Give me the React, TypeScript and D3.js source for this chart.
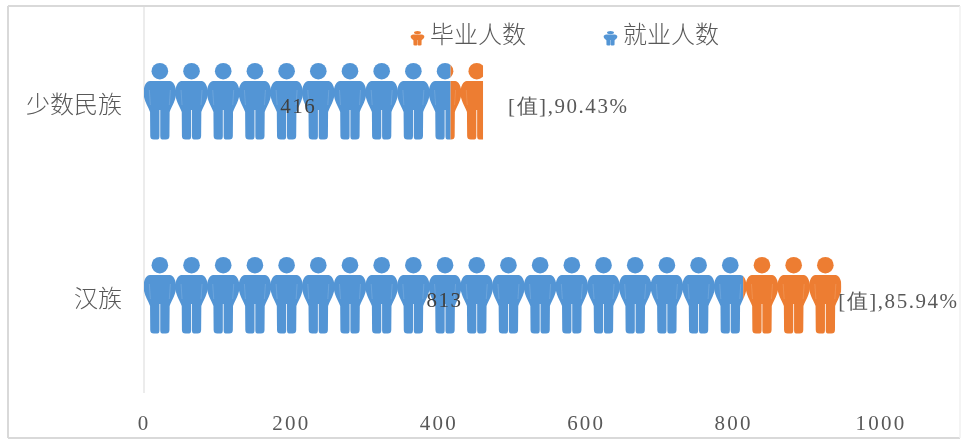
import React from "react";
import * as d3 from "d3";

const categories = ["少数民族", "汉族"];
const graduates = [460, 946];
const employed = [416, 813];
const rateLabels = ["[值],90.43%", "[值],85.94%"];
const ticks = [0, 200, 400, 600, 800, 1000];
const legendNames = ["毕业人数", "就业人数"];
const UNIT = 43; // value represented by one person glyph
const BLUE = "#5395d5";
const ORANGE = "#ed7d31";
const SERIF = "'Liberation Serif', serif";
const CJK = "'Noto Sans CJK SC', sans-serif";

const W = 964, H = 439;
const x = d3.scaleLinear().domain([0, 1000]).range([144, 881]);
const y = d3.scaleBand<string>().domain(categories).range([6, 394]).paddingInner(0).paddingOuter(0);
const glyphH = 77;

const bodyPath =
  "M-10,18 C-13.5,18 -16.3,23 -16.3,30 C-16.3,37 -12,43 -9.8,49 L-9.6,73 Q-9.6,76.5 -6,76.5 L-2.5,76.5 Q-0.4,76.5 -0.4,73 L-0.4,47 L0.4,47 L0.4,73 Q0.4,76.5 2.5,76.5 L6,76.5 Q9.6,76.5 9.6,73 L9.8,49 C12,43 16.3,37 16.3,30 C16.3,23 13.5,18 10,18 Z";

function Person({ cx, top, fill, sx = 1, sy = 1 }: { cx: number; top: number; fill: string; sx?: number; sy?: number }) {
  return (
    <g transform={`translate(${cx},${top}) scale(${sx},${sy})`}>
      <circle cx={0} cy={8.2} r={8.3} fill={fill} />
      <path d={bodyPath} fill={fill} />
      <path d="M-10.5,27 L-9.5,42 M10.5,27 L9.5,42" stroke="#fff" strokeOpacity={0.2} strokeWidth={0.7} fill="none" />
    </g>
  );
}

function Row({ i, cat, from, to, fill }: { i: number; cat: string; from: number; to: number; fill: string }) {
  const top = y(cat)! + y.bandwidth() / 2 - glyphH / 2 - 1.5;
  const id = `clip-${i}-${from}`;
  const count = Math.ceil(to / UNIT);
  return (
    <g>
      <clipPath id={id}>
        <rect x={x(from)} y={top - 2} width={x(to) - x(from)} height={glyphH + 4} />
      </clipPath>
      <g clipPath={`url(#${id})`}>
        {d3.range(count).map((k) => (
          <Person key={k} cx={x(k * UNIT + UNIT / 2)} top={top} fill={fill} />
        ))}
      </g>
    </g>
  );
}

export default function App() {
  return (
    <svg
      width={W}
      height={H}
      viewBox={`0 0 ${W} ${H}`}
      style={{ position: "absolute", left: 0, top: 0, background: "#fff" }}
    >
      <defs>
        <filter id="soft" x="-5%" y="-5%" width="110%" height="110%">
          <feGaussianBlur stdDeviation="0.6" />
        </filter>
      </defs>
      <line x1={8} x2={8} y1={6} y2={438} stroke="#d9d9d9" strokeWidth={2} />
      <line x1={8} x2={960} y1={6} y2={6} stroke="#d9d9d9" strokeWidth={2} />
      <line x1={8} x2={960} y1={438} y2={438} stroke="#d9d9d9" strokeWidth={2} />
      <line x1={960} x2={960} y1={6} y2={438} stroke="#f0f0f0" strokeWidth={1.5} />
      <g filter="url(#soft)">
        <line x1={x(0)} x2={x(0)} y1={7} y2={393} stroke="#d9d9d9" strokeWidth={1} />
        {categories.map((c, i) => (
          <g key={c}>
            <Row i={i} cat={c} from={0} to={employed[i]} fill={BLUE} />
            <Row i={i} cat={c} from={employed[i]} to={graduates[i]} fill={ORANGE} />
            <text
              x={122}
              y={y(c)! + y.bandwidth() / 2 + 1}
              dy="0.36em"
              textAnchor="end"
              fontFamily={CJK}
              fontSize={24}
              fontWeight={300}
              fill="#595959"
            >
              {c}
            </text>
            <text
              x={x(employed[i] / 2) + 1}
              y={y(c)! + y.bandwidth() / 2 + 2}
              dy="0.36em"
              textAnchor="middle"
              fontFamily={SERIF}
              fontSize={21}
              letterSpacing={1.6}
              fill="#404040"
            >
              {employed[i]}
            </text>
            <text
              x={i === 0 ? x(graduates[i]) + 25 : x(graduates[i]) - 3}
              y={y(c)! + y.bandwidth() / 2 + 2 + i}
              dy="0.36em"
              fontFamily={SERIF}
              fontSize={21}
              letterSpacing={1.55}
              fill="#595959"
            >
              {rateLabels[i]}
            </text>
          </g>
        ))}
        {ticks.map((t) => (
          <text
            key={t}
            x={x(t)}
            y={430}
            textAnchor="middle"
            fontFamily={SERIF}
            fontSize={21}
            letterSpacing={2.2}
            fill="#595959"
          >
            {t}
          </text>
        ))}
        {legendNames.map((n, i) => {
          const lx = i === 0 ? 417.5 : 610.5;
          return (
            <g key={n}>
              <Person cx={lx} top={31} fill={i === 0 ? ORANGE : BLUE} sx={0.42} sy={0.19} />
              <text x={lx + 12.5} y={34} dy="0.36em" fontFamily={CJK} fontSize={24} fontWeight={300} fill="#595959">
                {n}
              </text>
            </g>
          );
        })}
      </g>
    </svg>
  );
}
